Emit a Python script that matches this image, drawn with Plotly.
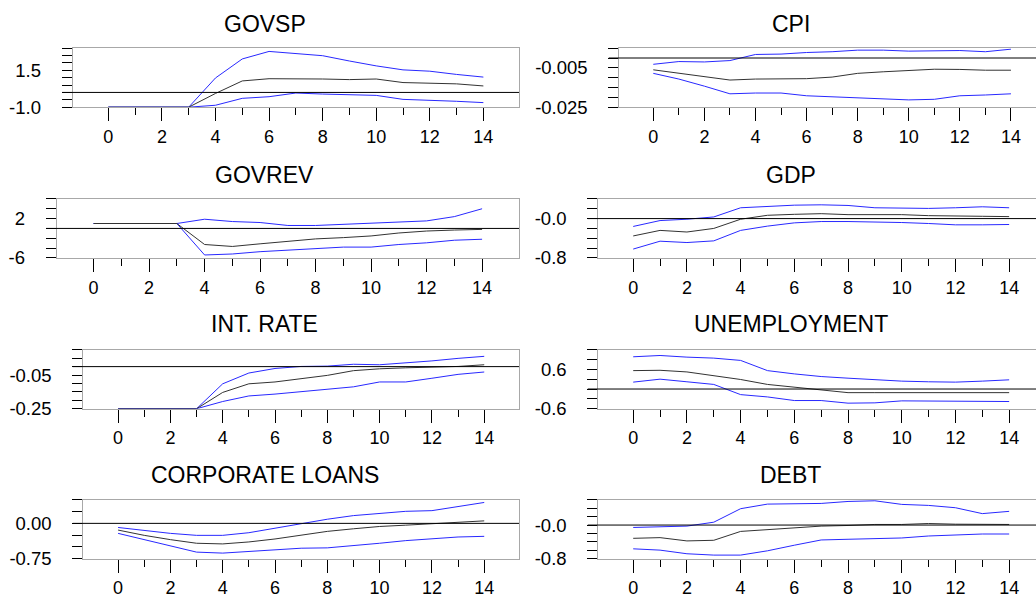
import plotly.graph_objects as go

# ---------------- data ----------------
periods = list(range(15))

titles = ["GOVSP", "CPI", "GOVREV", "GDP", "INT. RATE", "UNEMPLOYMENT", "CORPORATE LOANS", "DEBT"]

govsp_upper = [-1.0, -1.0, -1.0, -1.0, 0.98, 2.27, 2.78, 2.64, 2.49, 2.13, 1.80, 1.53, 1.44, 1.22, 1.04]
govsp_irf   = [-1.0, -1.0, -1.0, -1.0, -0.07, 0.78, 0.93, 0.93, 0.91, 0.87, 0.91, 0.67, 0.64, 0.58, 0.44]
govsp_lower = [-1.0, -1.0, -1.0, -1.0, -0.87, -0.40, -0.29, -0.04, -0.11, -0.13, -0.20, -0.47, -0.51, -0.60, -0.69]

cpi_upper = [-0.0032, -0.0018, -0.0020, -0.0013, 0.0018, 0.0020, 0.0028, 0.0032, 0.0040, 0.0040, 0.0035, 0.0038, 0.0038, 0.0032, 0.0045]
cpi_irf   = [-0.0060, -0.0077, -0.0093, -0.0112, -0.0107, -0.0105, -0.0105, -0.0097, -0.0078, -0.0070, -0.0062, -0.0057, -0.0058, -0.0062, -0.0062]
cpi_lower = [-0.0078, -0.0107, -0.0143, -0.0182, -0.0178, -0.0178, -0.0192, -0.0198, -0.0202, -0.0210, -0.0213, -0.0210, -0.0192, -0.0188, -0.0182]

govrev_upper = [1.0, 1.0, 1.0, 1.0, 1.87, 1.40, 1.20, 0.60, 0.60, 0.80, 1.07, 1.20, 1.53, 2.40, 4.00]
govrev_irf   = [1.0, 1.0, 1.0, 1.0, -3.27, -3.67, -3.13, -2.60, -2.13, -1.87, -1.53, -0.93, -0.53, -0.33, -0.20]
govrev_lower = [1.0, 1.0, 1.0, 1.0, -5.40, -5.20, -4.73, -4.40, -4.07, -3.80, -3.80, -3.27, -2.93, -2.40, -2.20]

gdp_upper = [-0.160, -0.040, -0.013, 0.033, 0.220, 0.247, 0.273, 0.280, 0.267, 0.220, 0.207, 0.207, 0.220, 0.240, 0.220]
gdp_irf   = [-0.353, -0.240, -0.273, -0.200, -0.013, 0.067, 0.087, 0.100, 0.080, 0.080, 0.080, 0.060, 0.047, 0.047, 0.040]
gdp_lower = [-0.620, -0.460, -0.487, -0.453, -0.240, -0.153, -0.087, -0.060, -0.060, -0.067, -0.080, -0.100, -0.127, -0.127, -0.120]

intrate_upper = [-0.25, -0.25, -0.25, -0.25, -0.102, -0.038, -0.011, 0.001, 0.003, 0.014, 0.011, 0.022, 0.034, 0.049, 0.061]
intrate_irf   = [-0.25, -0.25, -0.25, -0.25, -0.153, -0.102, -0.091, -0.073, -0.052, -0.024, -0.013, -0.007, -0.003, 0.001, 0.011]
intrate_lower = [-0.25, -0.25, -0.25, -0.25, -0.207, -0.174, -0.163, -0.149, -0.135, -0.120, -0.091, -0.091, -0.069, -0.046, -0.032]

unemp_upper = [0.98, 1.02, 0.97, 0.94, 0.87, 0.56, 0.46, 0.38, 0.33, 0.28, 0.24, 0.22, 0.21, 0.24, 0.28]
unemp_irf   = [0.56, 0.57, 0.52, 0.41, 0.29, 0.14, 0.05, -0.02, -0.11, -0.11, -0.11, -0.09, -0.09, -0.11, -0.11]
unemp_lower = [0.21, 0.30, 0.22, 0.14, -0.17, -0.24, -0.35, -0.35, -0.43, -0.42, -0.36, -0.36, -0.37, -0.36, -0.38]

corp_upper = [-0.087, -0.149, -0.212, -0.254, -0.254, -0.198, -0.101, 0.000, 0.088, 0.165, 0.214, 0.256, 0.270, 0.360, 0.444]
corp_irf   = [-0.142, -0.254, -0.345, -0.422, -0.436, -0.394, -0.331, -0.254, -0.170, -0.115, -0.066, -0.038, -0.010, 0.011, 0.053]
corp_lower = [-0.212, -0.345, -0.478, -0.610, -0.631, -0.596, -0.554, -0.527, -0.520, -0.478, -0.422, -0.366, -0.324, -0.289, -0.275]

debt_upper = [-0.057, -0.033, -0.025, 0.068, 0.389, 0.498, 0.498, 0.514, 0.561, 0.577, 0.491, 0.467, 0.412, 0.272, 0.326]
debt_irf   = [-0.315, -0.299, -0.377, -0.362, -0.151, -0.104, -0.072, -0.025, -0.010, 0.014, 0.014, 0.037, 0.021, 0.021, 0.014]
debt_lower = [-0.565, -0.596, -0.682, -0.714, -0.714, -0.612, -0.479, -0.354, -0.338, -0.323, -0.307, -0.260, -0.229, -0.213, -0.213]

# y tick positions and labels (EViews style: few labels, many tick marks)
govsp_yticks = [-1.0, -0.5, 0.0, 0.5, 1.0, 1.5, 2.0, 2.5, 3.0]
govsp_ylabels = {-1.0: "-1.0", 1.5: "1.5"}
cpi_yticks = [-0.025, -0.02, -0.015, -0.01, -0.005, 0.0, 0.005]
cpi_ylabels = {-0.025: "-0.025", -0.005: "-0.005"}
govrev_yticks = [-6, -4, -2, 0, 2, 4, 6]
govrev_ylabels = {-6: "-6", 2: "2"}
gdp_yticks = [-0.8, -0.6, -0.4, -0.2, 0.0, 0.2, 0.4]
gdp_ylabels = {-0.8: "-0.8", 0.0: "-0.0"}
intrate_yticks = [-0.25, -0.2, -0.15, -0.1, -0.05, 0.0, 0.05, 0.1]
intrate_ylabels = {-0.25: "-0.25", -0.05: "-0.05"}
unemp_yticks = [-0.6, -0.3, 0.0, 0.3, 0.6, 0.9, 1.2]
unemp_ylabels = {-0.6: "-0.6", 0.6: "0.6"}
corp_yticks = [-0.75, -0.5, -0.25, 0.0, 0.25, 0.5]
corp_ylabels = {-0.75: "-0.75", 0.0: "0.00"}
debt_yticks = [-0.8, -0.6, -0.4, -0.2, 0.0, 0.2, 0.4, 0.6]
debt_ylabels = {-0.8: "-0.8", 0.0: "-0.0"}

x_major = [0, 2, 4, 6, 8, 10, 12, 14]
x_minor = [1, 3, 5, 7, 9, 11, 13]

series = [
    (govsp_upper, govsp_irf, govsp_lower, govsp_yticks, govsp_ylabels),
    (cpi_upper, cpi_irf, cpi_lower, cpi_yticks, cpi_ylabels),
    (govrev_upper, govrev_irf, govrev_lower, govrev_yticks, govrev_ylabels),
    (gdp_upper, gdp_irf, gdp_lower, gdp_yticks, gdp_ylabels),
    (intrate_upper, intrate_irf, intrate_lower, intrate_yticks, intrate_ylabels),
    (unemp_upper, unemp_irf, unemp_lower, unemp_yticks, unemp_ylabels),
    (corp_upper, corp_irf, corp_lower, corp_yticks, corp_ylabels),
    (debt_upper, debt_irf, debt_lower, debt_yticks, debt_ylabels),
]

# ---------------- layout (pixels) ----------------
W, H = 1036, 599
# (box_left, box_right, box_top, box_bottom, xrange_left, xrange_right, title_x, title_y)
geom = [
    (72.7, 519, 49, 109, -1.33, 15.33, 264.5, 24.5),
    (619.3, 1036, 49, 109, -1.33, 14.98, 790.5, 24.0),
    (56.7, 519, 202.3, 262.3, -1.33, 15.33, 264.5, 178.3),
    (598.3, 1036, 202.3, 262.3, -1.30, 15.0, 790.5, 177.5),
    (83.3, 519, 355.7, 415.7, -1.33, 15.33, 264.5, 329.3),
    (598.3, 1036, 355.5, 415.7, -1.30, 15.0, 790.5, 329.0),
    (83.3, 519, 508.3, 568.2, -1.33, 15.33, 264.5, 483.3),
    (598.3, 1036, 508.3, 568.2, -1.30, 15.0, 790.5, 483.0),
]

BLUE = "rgb(40,40,255)"
MID = "rgb(50,50,50)"
BOX = "#a8a8a8"
FONT = "Liberation Sans, Arial, sans-serif"

fig = go.Figure()
layout = dict(
    width=W, height=H, margin=dict(l=0, r=0, t=0, b=0),
    paper_bgcolor="white", plot_bgcolor="white", showlegend=False,
    font=dict(family=FONT, color="black", size=18),
)
shapes = []
annotations = []

for i, ((up, mid, lo, yt, ylab), g) in enumerate(zip(series, geom)):
    bl, br, bt, bb, xr0, xr1, tx, ty = g
    n = i + 1
    xa = "x" if n == 1 else f"x{n}"
    ya = "y" if n == 1 else f"y{n}"
    right_col = (i % 2 == 1)
    for vals, col in ((up, BLUE), (lo, BLUE), (mid, MID)):
        fig.add_trace(go.Scatter(x=periods, y=vals, mode="lines", xaxis=xa, yaxis=ya,
                                 line=dict(color=col, width=1), hoverinfo="skip"))
    layout[f"xaxis{n if n > 1 else ''}"] = dict(
        domain=[bl / W, br / W], range=[xr0, xr1], anchor=ya,
        showgrid=False, zeroline=False, showline=True, linecolor=BOX, linewidth=1,
        mirror=True, ticks="outside", ticklen=13, tickcolor="black", tickwidth=1,
        tickmode="array", tickvals=x_major, ticktext=[str(v) for v in x_major],
        tickfont=dict(size=18, family=FONT),
        minor=dict(tickmode="array", tickvals=x_minor, ticks="outside", ticklen=7,
                   tickcolor="black", tickwidth=1, showgrid=False),
    )
    layout[f"yaxis{n if n > 1 else ''}"] = dict(
        domain=[1 - bb / H, 1 - bt / H], range=[yt[0], yt[-1]], anchor=xa,
        showgrid=False, zeroline=False, showline=True, linecolor=BOX, linewidth=1,
        mirror=(not right_col), ticks="outside", ticklen=10, tickcolor="black", tickwidth=1,
        tickmode="array", tickvals=yt, ticktext=[ylab.get(v, "") for v in yt],
        tickfont=dict(size=18.5, family=FONT), ticklabelstandoff=17,
    )
    shapes.append(dict(type="line", xref="paper", yref=ya, x0=(bl - 10.5) / W, x1=br / W,
                       y0=0, y1=0, line=dict(color="black", width=1)))
    annotations.append(dict(text=titles[i], xref="paper", yref="paper", x=tx / W, y=1 - ty / H,
                            xanchor="center", yanchor="middle", showarrow=False,
                            font=dict(size=23, family=FONT, color="black")))

layout["shapes"] = shapes
layout["annotations"] = annotations
fig.update_layout(**layout)
fig.write_html("out.html", config={"displayModeBar": False},
               post_script="document.body.style.margin='0px';document.body.style.overflow='hidden';")
